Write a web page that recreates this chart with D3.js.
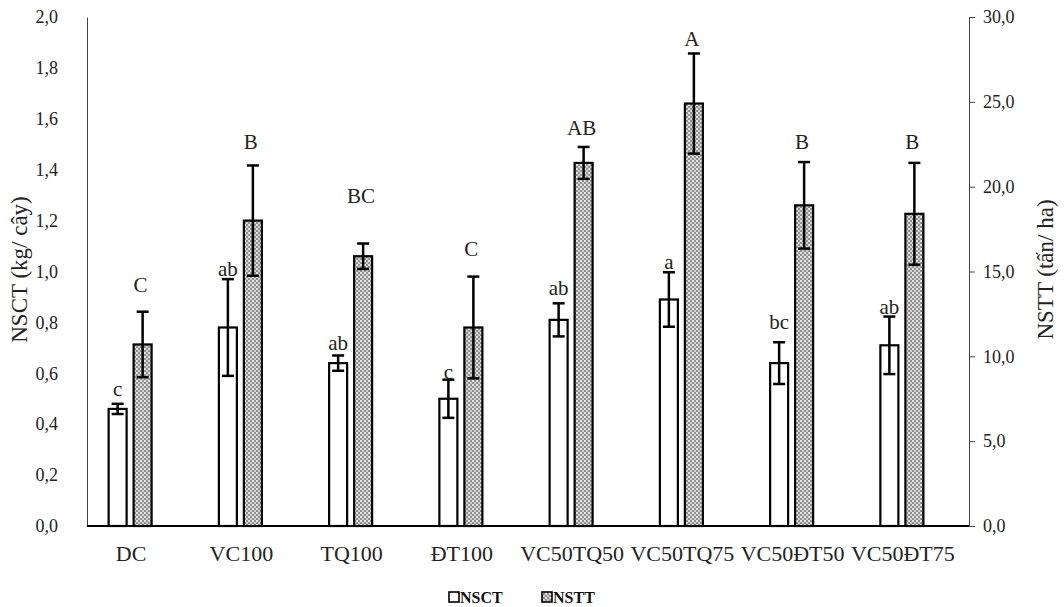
<!DOCTYPE html>
<html>
<head>
<meta charset="utf-8">
<script src="https://cdn.jsdelivr.net/npm/d3@7"></script>
<style>
  html, body { margin: 0; padding: 0; background: #fff; }
  svg { display: block; font-family: "Liberation Serif", "Times New Roman", serif; }
</style>
</head>
<body>
<svg id="chart" width="1064" height="607"></svg>
<script>
// ---- data ----
const categories = ["DC", "VC100", "TQ100", "ĐT100", "VC50TQ50", "VC50TQ75", "VC50ĐT50", "VC50ĐT75"];
const nsct      = [0.46, 0.78, 0.64, 0.50, 0.81, 0.89, 0.64, 0.71];
const nsctErr   = [0.02, 0.19, 0.03, 0.075, 0.065, 0.107, 0.082, 0.113];
const nstt      = [10.7, 18.0, 15.9, 11.7, 21.4, 24.9, 18.9, 18.4];
const nsttErr   = [1.93, 3.25, 0.75, 3.0, 0.94, 2.95, 2.55, 3.0];
const nsctLetters = ["c", "ab", "ab", "c", "ab", "a", "bc", "ab"];
const nsttLetters = ["C", "B", "BC", "C", "AB", "A", "B", "B"];
// letter heights (in each series' axis units)
const nsctLetterAt = [0.538, 1.01, 0.721, 0.608, 0.936, 1.04, 0.803, 0.863];
const nsttLetterAt = [14.25, 22.63, 19.48, 16.34, 23.47, 28.7, 22.63, 22.63];
const leftTicks  = [0, 0.2, 0.4, 0.6, 0.8, 1.0, 1.2, 1.4, 1.6, 1.8, 2.0];
const rightTicks = [0, 5, 10, 15, 20, 25, 30];
const leftTitle = "NSCT (kg/ cây)";
const rightTitle = "NSTT (tấn/ ha)";
const seriesNames = ["NSCT", "NSTT"];

// ---- layout ----
const svg = d3.select("#chart");
const plotL = 87, plotR = 969, plotT = 17, plotB = 526;
const serif = "Liberation Serif";

const defs = svg.append("defs");
const pat = defs.append("pattern").attr("id", "hatch").attr("patternUnits", "userSpaceOnUse")
  .attr("width", 4).attr("height", 4);
pat.append("rect").attr("width", 4).attr("height", 4).attr("fill", "#8f8f8f");
pat.append("rect").attr("x", 0).attr("y", 0).attr("width", 2).attr("height", 2).attr("fill", "#e4e4e4");
pat.append("rect").attr("x", 2).attr("y", 2).attr("width", 2).attr("height", 2).attr("fill", "#cfcfcf");

const x = d3.scaleBand().domain(categories).range([plotL - 12, plotR - 12]).padding(0);
const yL = d3.scaleLinear().domain([0, 2]).range([plotB, plotT]);
const yR = d3.scaleLinear().domain([0, 30]).range([plotB, plotT]);
const cx = c => x(c) + x.bandwidth() / 2;

const fmt1 = d => d3.format(".1f")(d).replace(".", ",");

// left axis
const gL = svg.append("g").attr("transform", `translate(${plotL},0)`)
  .call(d3.axisLeft(yL).tickValues(leftTicks).tickSize(0).tickPadding(29).tickFormat(fmt1));
gL.select(".domain").attr("stroke", "#444").attr("stroke-width", 1);
gL.selectAll("text").attr("font-family", serif).attr("font-size", 18).attr("fill", "#222");

// right axis
const gR = svg.append("g").attr("transform", `translate(${plotR},0)`)
  .call(d3.axisRight(yR).tickValues(rightTicks).tickSize(6).tickPadding(8).tickFormat(fmt1));
gR.select(".domain").attr("stroke", "#444").attr("stroke-width", 1);
gR.selectAll(".tick line").attr("stroke", "#444");
gR.selectAll("text").attr("font-family", serif).attr("font-size", 18).attr("fill", "#222");

// bars
const bw = 18, off = 12.5;
const gB = svg.append("g");
categories.forEach((c, i) => {
  gB.append("rect")
    .attr("x", cx(c) - off - bw / 2).attr("y", yL(nsct[i]))
    .attr("width", bw).attr("height", yL(0) - yL(nsct[i]))
    .attr("fill", "#fff").attr("stroke", "#000").attr("stroke-width", 2.2);
  gB.append("rect")
    .attr("x", cx(c) + off - bw / 2).attr("y", yR(nstt[i]))
    .attr("width", bw).attr("height", yR(0) - yR(nstt[i]))
    .attr("fill", "url(#hatch)").attr("stroke", "#000").attr("stroke-width", 2.2);
});

// x axis line
svg.append("line").attr("x1", plotL).attr("x2", plotR).attr("y1", plotB).attr("y2", plotB)
  .attr("stroke", "#000").attr("stroke-width", 2);

// error bars
const cap = 6;
function errBar(xc, yTop, yBot) {
  gB.append("line").attr("x1", xc).attr("x2", xc).attr("y1", yTop).attr("y2", yBot)
    .attr("stroke", "#000").attr("stroke-width", 2.5);
  [yTop, yBot].forEach(yy => gB.append("line").attr("x1", xc - cap).attr("x2", xc + cap)
    .attr("y1", yy).attr("y2", yy).attr("stroke", "#000").attr("stroke-width", 2.5));
}
categories.forEach((c, i) => {
  errBar(cx(c) - off, yL(nsct[i] + nsctErr[i]), yL(nsct[i] - nsctErr[i]));
  errBar(cx(c) + off, yR(nstt[i] + nsttErr[i]), yR(nstt[i] - nsttErr[i]));
});

// letters
categories.forEach((c, i) => {
  svg.append("text").attr("x", cx(c) - off).attr("y", yL(nsctLetterAt[i])).attr("dy", "0.35em")
    .attr("text-anchor", "middle").attr("font-family", serif).attr("font-size", 21).attr("fill", "#222").text(nsctLetters[i]);
  svg.append("text").attr("x", cx(c) + off - 2).attr("y", yR(nsttLetterAt[i])).attr("dy", "0.35em")
    .attr("text-anchor", "middle").attr("font-family", serif).attr("font-size", 21).attr("fill", "#222").text(nsttLetters[i]);
});

// category labels
svg.append("g").selectAll("text").data(categories).join("text")
  .attr("x", d => cx(d) + 1).attr("y", 553).attr("dy", "0.35em")
  .attr("text-anchor", "middle").attr("font-family", serif).attr("font-size", 22).attr("fill", "#222").text(d => d);

// axis titles
svg.append("text").attr("transform", `translate(19,${(plotT + plotB) / 2 - 2}) rotate(-90)`)
  .attr("text-anchor", "middle").attr("dy", "0.35em").attr("font-family", serif).attr("font-size", 23).attr("fill", "#222").text(leftTitle);
svg.append("text").attr("transform", `translate(1045,${(plotT + plotB) / 2 - 2}) rotate(-90)`)
  .attr("text-anchor", "middle").attr("dy", "0.35em").attr("font-family", serif).attr("font-size", 23).attr("fill", "#222").text(rightTitle);

// legend
const lg = svg.append("g").attr("transform", "translate(449,597)");
const fills = ["#fff", "url(#hatch)"];
const lx = [0, 93];
seriesNames.forEach((n, i) => {
  lg.append("rect").attr("x", lx[i]).attr("y", -5).attr("width", 10).attr("height", 10)
    .attr("fill", fills[i]).attr("stroke", "#000").attr("stroke-width", 1.6);
  lg.append("text").attr("x", lx[i] + 11).attr("y", 0).attr("dy", "0.35em")
    .attr("font-family", serif).attr("font-size", 16).attr("font-weight", "bold").attr("fill", "#111").text(n);
});
</script>
</body>
</html>
